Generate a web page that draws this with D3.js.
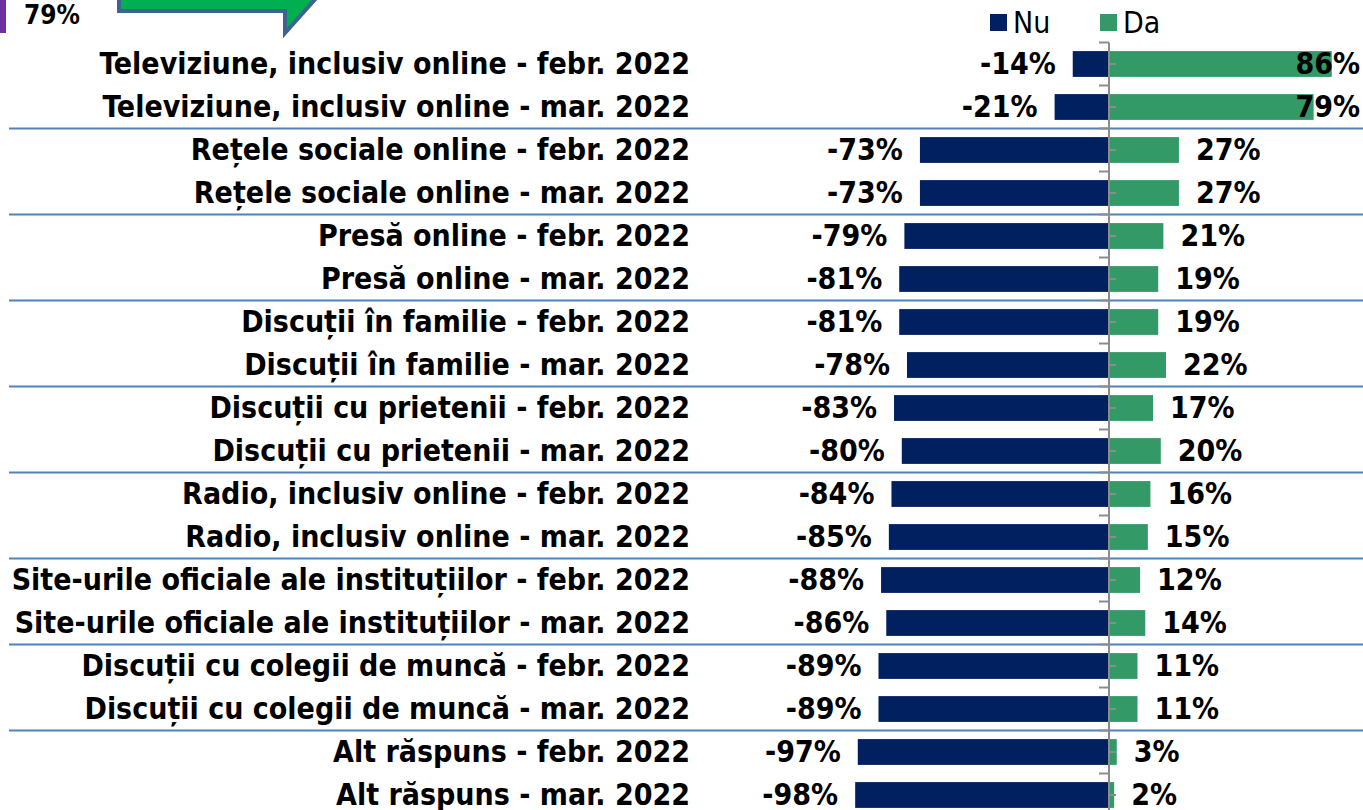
<!DOCTYPE html>
<html>
<head>
<meta charset="utf-8">
<script src="https://cdn.jsdelivr.net/npm/d3@7"></script>
<style>
  html, body { margin: 0; padding: 0; background: #ffffff; }
  svg { display: block; }
</style>
</head>
<body>
<svg id="chart" width="1363" height="810"></svg>
<script>
const categories = [
  "Televiziune, inclusiv online - febr. 2022",
  "Televiziune, inclusiv online - mar. 2022",
  "Rețele sociale online - febr. 2022",
  "Rețele sociale online - mar. 2022",
  "Presă online - febr. 2022",
  "Presă online - mar. 2022",
  "Discuții în familie - febr. 2022",
  "Discuții în familie - mar. 2022",
  "Discuții cu prietenii - febr. 2022",
  "Discuții cu prietenii - mar. 2022",
  "Radio, inclusiv online - febr. 2022",
  "Radio, inclusiv online - mar. 2022",
  "Site-urile oficiale ale instituțiilor - febr. 2022",
  "Site-urile oficiale ale instituțiilor - mar. 2022",
  "Discuții cu colegii de muncă - febr. 2022",
  "Discuții cu colegii de muncă - mar. 2022",
  "Alt răspuns - febr. 2022",
  "Alt răspuns - mar. 2022"
];
const nuValues = [-14, -21, -73, -73, -79, -81, -81, -78, -83, -80, -84, -85, -88, -86, -89, -89, -97, -98];
const daValues = [86, 79, 27, 27, 21, 19, 19, 22, 17, 20, 16, 15, 12, 14, 11, 11, 3, 2];
const seriesNames = ["Nu", "Da"];
const cornerLabel = "79%";

const colNu = "#002060";
const colDa = "#339966";
const FONT = "'DejaVu Sans Condensed', 'DejaVu Sans', sans-serif";

const svg = d3.select("#chart");
const W = 1363, H = 810;

const y = d3.scaleBand().domain(categories).range([42.5, 816.5]).paddingInner(0.4).paddingOuter(0.2);
const x = d3.scaleLinear().domain([-100, 100]).range([850, 1368]);
const step = y.step();
const ty = d => y(d) + y.bandwidth() / 2 - 1;

// decorative cropped elements at top-left
svg.append("rect").attr("x", 0).attr("y", 0).attr("width", 6).attr("height", 33).attr("fill", "#7030a0");
svg.append("text").attr("x", 24).attr("y", 24).text(cornerLabel)
  .attr("font-family", FONT).attr("font-weight", "bold").attr("font-size", 26).attr("fill", "#000");
svg.append("path").attr("d", "M119,-4 L119,11 L285,11 L285,33 L318,-4 Z")
  .attr("fill", "#00b050").attr("stroke", "#3f6391").attr("stroke-width", 4);

// separator lines between pairs
const sepIdx = d3.range(2, categories.length, 2);
svg.append("g").selectAll("line").data(sepIdx).join("line")
  .attr("x1", 9).attr("x2", W)
  .attr("y1", i => y(categories[i]) - step * 0.2)
  .attr("y2", i => y(categories[i]) - step * 0.2)
  .attr("stroke", "#4f81bd").attr("stroke-width", 2);

// bars
svg.append("g").selectAll("rect").data(categories).join("rect")
  .attr("x", (d, i) => x(nuValues[i])).attr("width", (d, i) => x(0) - x(nuValues[i]))
  .attr("y", d => y(d)).attr("height", y.bandwidth()).attr("fill", colNu);
svg.append("g").selectAll("rect").data(categories).join("rect")
  .attr("x", x(0)).attr("width", (d, i) => x(daValues[i]) - x(0))
  .attr("y", d => y(d)).attr("height", y.bandwidth()).attr("fill", colDa);

// axis line and ticks
const ax = svg.append("g").attr("stroke", "#8c8c8c").attr("stroke-width", 2);
ax.append("line").attr("x1", x(0)).attr("x2", x(0)).attr("y1", 42.5).attr("y2", H);
const bounds = d3.range(categories.length + 1).map(i => 42.5 + i * step);
ax.selectAll("line.b").data(bounds).join("line").attr("class", "b")
  .attr("x1", x(0) - 10).attr("x2", x(0)).attr("y1", d => d).attr("y2", d => d);
ax.selectAll("line.c").data(categories).join("line").attr("class", "c")
  .attr("x1", x(0)).attr("x2", x(0) + 7)
  .attr("y1", d => y(d) + y.bandwidth() / 2).attr("y2", d => y(d) + y.bandwidth() / 2);

// category labels
const labelStyle = sel => sel.attr("font-family", FONT).attr("font-weight", "bold")
  .attr("font-size", 30).attr("fill", "#000").attr("dominant-baseline", "central");
svg.append("g").selectAll("text").data(categories).join("text")
  .attr("x", 690).attr("y", ty)
  .attr("text-anchor", "end").text(d => d).call(labelStyle);

// value labels
const fmt = v => v + "%";
svg.append("g").selectAll("text").data(categories).join("text")
  .attr("x", (d, i) => x(nuValues[i]) - 17).attr("y", ty)
  .attr("text-anchor", "end").text((d, i) => fmt(nuValues[i])).call(labelStyle);
const daLabels = svg.append("g").selectAll("text").data(categories).join("text")
  .attr("y", ty)
  .text((d, i) => fmt(daValues[i])).call(labelStyle);
daLabels.each(function(d, i) {
  const t = d3.select(this);
  const w = this.getComputedTextLength();
  const px = x(daValues[i]) + 17;
  if (px + w > W - 3) t.attr("x", W - 3).attr("text-anchor", "end");
  else t.attr("x", px).attr("text-anchor", "start");
});

// legend
const lg = svg.append("g");
const legX = [990, 1100];
seriesNames.forEach((name, k) => {
  lg.append("rect").attr("x", legX[k]).attr("y", 14).attr("width", 17).attr("height", 17)
    .attr("fill", k === 0 ? colNu : colDa);
  lg.append("text").attr("x", legX[k] + 23).attr("y", 33).text(name)
    .attr("font-family", FONT).attr("font-size", 30).attr("fill", "#000");
});
</script>
</body>
</html>
